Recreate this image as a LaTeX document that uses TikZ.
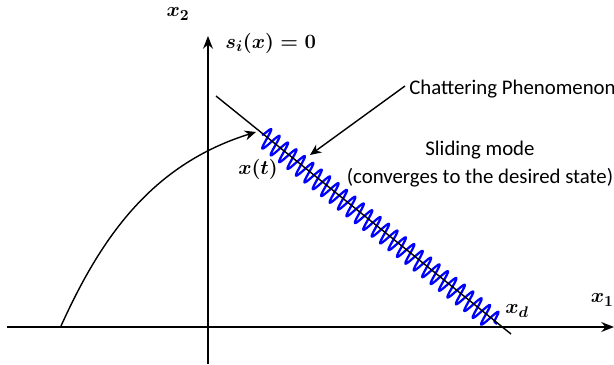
\documentclass[tikz,border=0pt]{standalone}
\usepackage{fontspec}
\newfontfamily\labelfont{Carlito}
\usetikzlibrary{arrows.meta,decorations.pathmorphing}
\begin{document}
\begin{tikzpicture}[x=0.025cm, y=0.025cm,
        axis/.style={line width=1.3pt, -{Stealth[length=9pt, width=7pt]}},
        trajline/.style={line width=1pt, -{Stealth[length=8pt, width=7pt]}},
        chatter/.style={blue, line width=1.6pt, line join=round, decorate,
            decoration={snake, segment length=0.27cm, amplitude=0.26cm}},
        note/.style={font=\labelfont\fontsize{14.8}{16}\selectfont, inner sep=0pt},
        mathlabel/.style={font=\boldmath\fontsize{15}{17}\selectfont, inner sep=0pt}]
        \useasboundingbox (0,0) rectangle (614,-364);
        % axes
        \coordinate (xl) at (7,-327);
        \coordinate (xr) at (614,-327);
        \coordinate (yb) at (208,-364);
        \coordinate (yt) at (208,-36);
        \draw[axis] (xl) -- (xr);
        \draw[axis] (yb) -- (yt);
        \node[mathlabel] (x2) at (178,-14) {$x_2$};
        \node[mathlabel, anchor=east] (x1) at (614,-300) {$x_1$};
        % chattering along the surface
        \coordinate (cs) at (262,-135);
        \coordinate (ce) at (497,-324);
        \draw[chatter] (cs) -- (ce);
        % sliding surface
        \coordinate (sa) at (216,-96);
        \coordinate (sb) at (511,-334);
        \draw[line width=1pt] (sa) -- (sb);
        \node[mathlabel, anchor=west] (surf) at (225,-43) {$s_i(x)=0$};
        % trajectory
        \coordinate (x0) at (61,-326);
        \coordinate (xt) at (256,-132);
        \draw[trajline] (x0) .. controls (100,-240) and (150,-165) .. (xt);
        \node[mathlabel] (xtl) at (258,-169) {$x(t)$};
        \node[mathlabel] (xd) at (517,-311) {$x_d$};
        % notes
        \node[note, anchor=west] (chat) at (409,-89) {Chattering Phenomenon};
        \coordinate (ct) at (405,-86);
        \coordinate (ch) at (310,-155);
        \draw[trajline] (ct) -- (ch);
        \node[note] (slide) at (480,-150) {Sliding mode};
        \node[note] (conv) at (480,-178) {(converges to the desired state)};
\end{tikzpicture}
\end{document}
